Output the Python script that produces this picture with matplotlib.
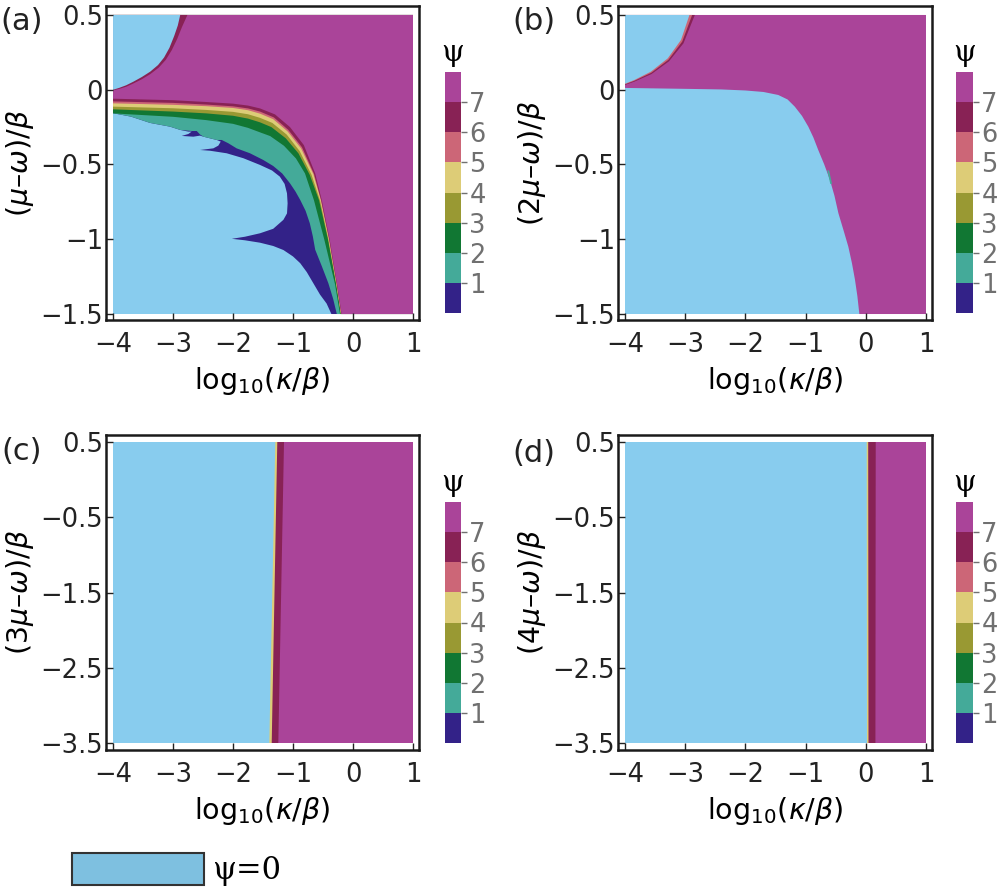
import matplotlib.pyplot as plt
from matplotlib.colors import ListedColormap, BoundaryNorm
from matplotlib.cm import ScalarMappable
from matplotlib.patches import Polygon, Rectangle

plt.rcParams['font.family'] = ['DejaVu Sans']
plt.rcParams['mathtext.fontset'] = 'dejavusans'

# colour key (psi = 0 first, then the 8 bar-legend colours)
zero_color = '#88CCEE'
psi_colors = ['#332288', '#44AA99', '#117733', '#999933',
              '#DDCC77', '#CC6677', '#882255', '#AA4499']
psi_ticks = [1, 2, 3, 4, 5, 6, 7]
psi_bounds = [0, 1, 2, 3, 4, 5, 6, 7, 8]

x_range = [-4, 1]
x_ticks = [-4, -3, -2, -1, 0, 1]
x_ticklabels = ['\u22124', '\u22123', '\u22122', '\u22121', '0', '1']
y_range_ab = [-1.5, 0.5]
y_ticks_ab = [-1.5, -1, -0.5, 0, 0.5]
y_ticklabels_ab = ['\u22121.5', '\u22121', '\u22120.5', '0', '0.5']
y_range_cd = [-3.5, 0.5]
y_ticks_cd = [-3.5, -2.5, -1.5, -0.5, 0.5]
y_ticklabels_cd = ['\u22123.5', '\u22122.5', '\u22121.5', '\u22120.5', '0.5']
panel_tags = ['(a)', '(b)', '(c)', '(d)']
y_titles = ['($\\mu$\u2013$\\omega$)/$\\beta$', '(2$\\mu$\u2013$\\omega$)/$\\beta$',
            '(3$\\mu$\u2013$\\omega$)/$\\beta$', '(4$\\mu$\u2013$\\omega$)/$\\beta$']
x_title = 'log$_{10}$($\\kappa$/$\\beta$)'

# ---- panel (a): region boundaries, from the upper-left end down to the bottom edge
a_indigo_x = [-4, -3.7, -3.383, -3.05, -2.88, -2.745, -2.689, -2.745, -2.855, -2.661, -2.55,
              -2.494, -2.272, -2.205, -2.245, -2.328, -2.55, -2.383, -2.105, -1.828, -1.55,
              -1.35, -1.22, -1.14, -1.1, -1.09, -1.1, -1.16, -1.33, -1.55, -1.8, -2.02,
              -1.8, -1.55, -1.33, -1.16, -1.0, -0.88, -0.77, -0.66, -0.55, -0.44, -0.36]
a_indigo_y = [-0.157, -0.18, -0.222, -0.247, -0.269, -0.280, -0.280, -0.296, -0.309, -0.314,
              -0.307, -0.314, -0.336, -0.347, -0.374, -0.392, -0.403, -0.408, -0.425, -0.458,
              -0.503, -0.54, -0.581, -0.63, -0.693, -0.76, -0.827, -0.87, -0.93, -0.96, -0.983,
              -0.997, -1.007, -1.023, -1.045, -1.072, -1.115, -1.16, -1.22, -1.295, -1.37,
              -1.43, -1.5]
a_teal_x = [-4, -3.7, -3.383, -3.05, -2.88, -2.689, -2.605, -2.55, -2.494, -2.272, -2.188,
            -2.078, -1.94, -1.717, -1.495, -1.33, -1.18, -1.05, -0.96, -0.88, -0.79, -0.72,
            -0.67, -0.63, -0.52, -0.41, -0.33, -0.27]
a_teal_y = [-0.157, -0.18, -0.222, -0.247, -0.269, -0.276, -0.276, -0.299, -0.314, -0.336,
            -0.336, -0.358, -0.392, -0.425, -0.47, -0.51, -0.56, -0.626, -0.68, -0.737, -0.81,
            -0.893, -0.98, -1.07, -1.18, -1.295, -1.4, -1.5]
a_green_x = [-4, -3, -2.45, -2.0, -1.75, -1.55, -1.38, -1.15, -0.95, -0.80, -0.65, -0.48, -0.30, -0.217]
a_green_y = [-0.158, -0.181, -0.203, -0.228, -0.255, -0.285, -0.31, -0.375, -0.46, -0.56, -0.74, -1.0, -1.3, -1.5]
a_olive_x = [-4, -3, -2.45, -2.0, -1.75, -1.55, -1.36, -1.12, -0.91, -0.72, -0.565, -0.418, -0.282, -0.204]
a_olive_y = [-0.131, -0.146, -0.158, -0.174, -0.193, -0.218, -0.25, -0.325, -0.425, -0.57, -0.74, -1.0, -1.3, -1.5]
a_sand_x = [-4, -3, -2.45, -2.0, -1.75, -1.55, -1.345, -1.105, -0.89, -0.69, -0.55, -0.41, -0.278, -0.20]
a_sand_y = [-0.113, -0.124, -0.135, -0.148, -0.164, -0.188, -0.222, -0.30, -0.41, -0.57, -0.74, -1.0, -1.3, -1.5]
a_rose_x = [-4, -3, -2.45, -2.0, -1.75, -1.55, -1.33, -1.09, -0.865, -0.66, -0.536, -0.402, -0.274, -0.197]
a_rose_y = [-0.091, -0.101, -0.110, -0.122, -0.137, -0.160, -0.197, -0.279, -0.393, -0.565, -0.74, -1.0, -1.3, -1.5]
a_wine_x = [-4, -3, -2.45, -2.0, -1.75, -1.55, -1.32, -1.08, -0.85, -0.65, -0.53, -0.397, -0.27, -0.194]
a_wine_y = [-0.078, -0.088, -0.099, -0.111, -0.125, -0.146, -0.185, -0.268, -0.385, -0.563, -0.74, -1.0, -1.3, -1.5]
a_purple_x = [-4, -3, -2.45, -2.0, -1.75, -1.55, -1.3, -1.05, -0.82, -0.63, -0.52, -0.39, -0.265, -0.19]
a_purple_y = [-0.060, -0.070, -0.082, -0.093, -0.106, -0.125, -0.165, -0.25, -0.37, -0.56, -0.74, -1.0, -1.3, -1.5]
# upper-left psi=0 cap of (a) and its wine rim
a_cap_x = [-4, -3.9, -3.78, -3.66, -3.52, -3.38, -3.25, -3.15, -3.06, -2.98, -2.92, -2.88]
a_cap_y = [0.0, 0.012, 0.03, 0.054, 0.085, 0.121, 0.165, 0.215, 0.28, 0.36, 0.43, 0.5]
a_rim_x = [-4, -3.9, -3.78, -3.66, -3.52, -3.38, -3.24, -3.12, -3.02, -2.93, -2.85, -2.76]
a_rim_y = [-0.004, 0.005, 0.02, 0.042, 0.07, 0.104, 0.147, 0.2, 0.265, 0.34, 0.42, 0.5]

# ---- panel (b)
b_edge_x = [-4, -3, -2.4, -2.0, -1.7, -1.455, -1.3, -1.18, -1.06, -0.955, -0.87, -0.79, -0.69,
            -0.595, -0.52, -0.455, -0.37, -0.29, -0.23, -0.18, -0.14, -0.107]
b_edge_y = [0.012, 0.006, 0.002, -0.005, -0.015, -0.035, -0.065, -0.113, -0.175, -0.247, -0.32,
            -0.403, -0.5, -0.604, -0.71, -0.826, -0.94, -1.05, -1.16, -1.27, -1.38, -1.5]
b_fleck_x = [-0.64, -0.61, -0.56, -0.59]
b_fleck_y = [-0.54, -0.54, -0.63, -0.63]
b_cap_x = [-4, -3.845, -3.57, -3.29, -3.07, -2.93]
b_cap_y = [0.04, 0.065, 0.121, 0.21, 0.333, 0.5]
b_mid_x = [-4, -3.843, -3.565, -3.28, -3.05, -2.885]
b_mid_y = [0.036, 0.06, 0.113, 0.2, 0.322, 0.5]
b_rim_x = [-4, -3.84, -3.56, -3.27, -3.03, -2.84]
b_rim_y = [0.032, 0.055, 0.105, 0.19, 0.31, 0.5]

# ---- panels (c), (d): near-vertical boundaries, x at top and bottom edge
cd_y = [0.5, -3.5]
c_edge_x = [-1.295, -1.395]
c_wine_x = [-1.262, -1.355]
c_purple_x = [-1.15, -1.245]
d_edge_x = [0.015, 0.02]
d_wine_x = [0.04, 0.045]
d_purple_x = [0.165, 0.16]

W, H = 997, 891
fig = plt.figure(figsize=(W / 100, H / 100), dpi=100)


def box(l, t, r, b):
    return [l / W, 1 - b / H, (r - l) / W, (b - t) / H]


def right_of(ax, xs, ys, color, ytop):
    pts = list(zip(xs, ys)) + [(x_range[1], ys[-1]), (x_range[1], ytop), (x_range[0], ytop)]
    ax.add_patch(Polygon(pts, closed=True, fc=color, ec='none', lw=0))


def left_of(ax, xs, ys, color, ytop):
    pts = list(zip(xs, ys)) + [(x_range[0], ytop)]
    ax.add_patch(Polygon(pts, closed=True, fc=color, ec='none', lw=0))


frames = [(106, 6, 419, 320), (618, 6, 932, 320), (106, 435, 419, 750), (618, 435, 932, 750)]
bars = [(445, 72, 461, 313), (956, 72, 973, 313), (445, 502, 461, 743), (956, 502, 973, 743)]
axes = []
for i in range(4):
    ax = fig.add_axes(box(*frames[i]))
    axes.append(ax)
    if i < 2:
        yr, yt, yl = y_range_ab, y_ticks_ab, y_ticklabels_ab
        ax.set_ylim(yr[0] - 0.04, yr[1] + 0.06)
    else:
        yr, yt, yl = y_range_cd, y_ticks_cd, y_ticklabels_cd
        ax.set_ylim(yr[0] - 0.093, yr[1] + 0.093)
    ax.set_xlim(x_range[0] - 0.117, x_range[1] + 0.1)
    ax.add_patch(Rectangle((x_range[0], yr[0]), x_range[1] - x_range[0], yr[1] - yr[0],
                           fc=zero_color, ec='none', lw=0))
    ax.set_xticks(x_ticks)
    ax.set_xticklabels(x_ticklabels)
    ax.set_yticks(yt)
    ax.set_yticklabels(yl)
    ax.tick_params(direction='in', length=5, width=1, labelsize=18.5, colors='#222222')
    ax.tick_params(axis='x', pad=9)
    ax.tick_params(axis='y', pad=2)
    for s in ax.spines.values():
        s.set_linewidth(1.8)
        s.set_color('#1a1a1a')
    ax.set_xlabel(x_title, fontsize=20.5, labelpad=5)
    ax.set_ylabel(y_titles[i], fontsize=20.5, labelpad=3)

# (a)
ax = axes[0]
top = y_range_ab[1]
bands = [(a_indigo_x, a_indigo_y), (a_teal_x, a_teal_y), (a_green_x, a_green_y),
         (a_olive_x, a_olive_y), (a_sand_x, a_sand_y), (a_rose_x, a_rose_y),
         (a_wine_x, a_wine_y), (a_purple_x, a_purple_y)]
for (xs, ys), c in zip(bands, psi_colors):
    right_of(ax, xs, ys, c, top)
left_of(ax, a_rim_x, a_rim_y, psi_colors[6], top)
left_of(ax, a_cap_x, a_cap_y, zero_color, top)

# (b)
ax = axes[1]
right_of(ax, b_edge_x, b_edge_y, psi_colors[7], top)
ax.add_patch(Polygon(list(zip(b_fleck_x, b_fleck_y)), closed=True, fc=psi_colors[1], ec='none'))
left_of(ax, b_rim_x, b_rim_y, psi_colors[6], top)
left_of(ax, b_mid_x, b_mid_y, psi_colors[5], top)
left_of(ax, b_cap_x, b_cap_y, zero_color, top)

# (c), (d)
top = y_range_cd[1]
for ax, ex, wx, px in [(axes[2], c_edge_x, c_wine_x, c_purple_x),
                       (axes[3], d_edge_x, d_wine_x, d_purple_x)]:
    right_of(ax, ex, cd_y, psi_colors[4], top)
    right_of(ax, wx, cd_y, psi_colors[6], top)
    right_of(ax, px, cd_y, psi_colors[7], top)

# bar legends
cmap = ListedColormap(psi_colors)
norm = BoundaryNorm(psi_bounds, cmap.N)
for i in range(4):
    cax = fig.add_axes(box(*bars[i]))
    cb = fig.colorbar(ScalarMappable(norm=norm, cmap=cmap), cax=cax, ticks=psi_ticks)
    cb.outline.set_visible(False)
    cb.minorticks_off()
    cax.tick_params(labelsize=18.5, colors='#707070', length=4, width=1, pad=2)
    l, t, r, b = bars[i]
    fig.text((l + r) / 2 / W, 1 - (t - 19) / H, '\u03c8', fontsize=21,
             family='DejaVu Serif', ha='center', va='center')

tag_pos = [(22, 21), (534, 21), (22, 452), (534, 453)]
for (tx, ty), tag in zip(tag_pos, panel_tags):
    fig.text(tx / W, 1 - ty / H, tag, fontsize=22, ha='center', va='center', color='#222222')

# psi = 0 key
fig.add_artist(Rectangle((72 / W, 1 - 885 / H), 132 / W, 32 / H, transform=fig.transFigure,
                         fc='#7EC0E0', ec='#333333', lw=1.5))
fig.text(212 / W, 1 - 870 / H, '\u03c8=0', fontsize=22, va='center', ha='left',
         family='DejaVu Serif')

fig.savefig('out.png', dpi=100)
